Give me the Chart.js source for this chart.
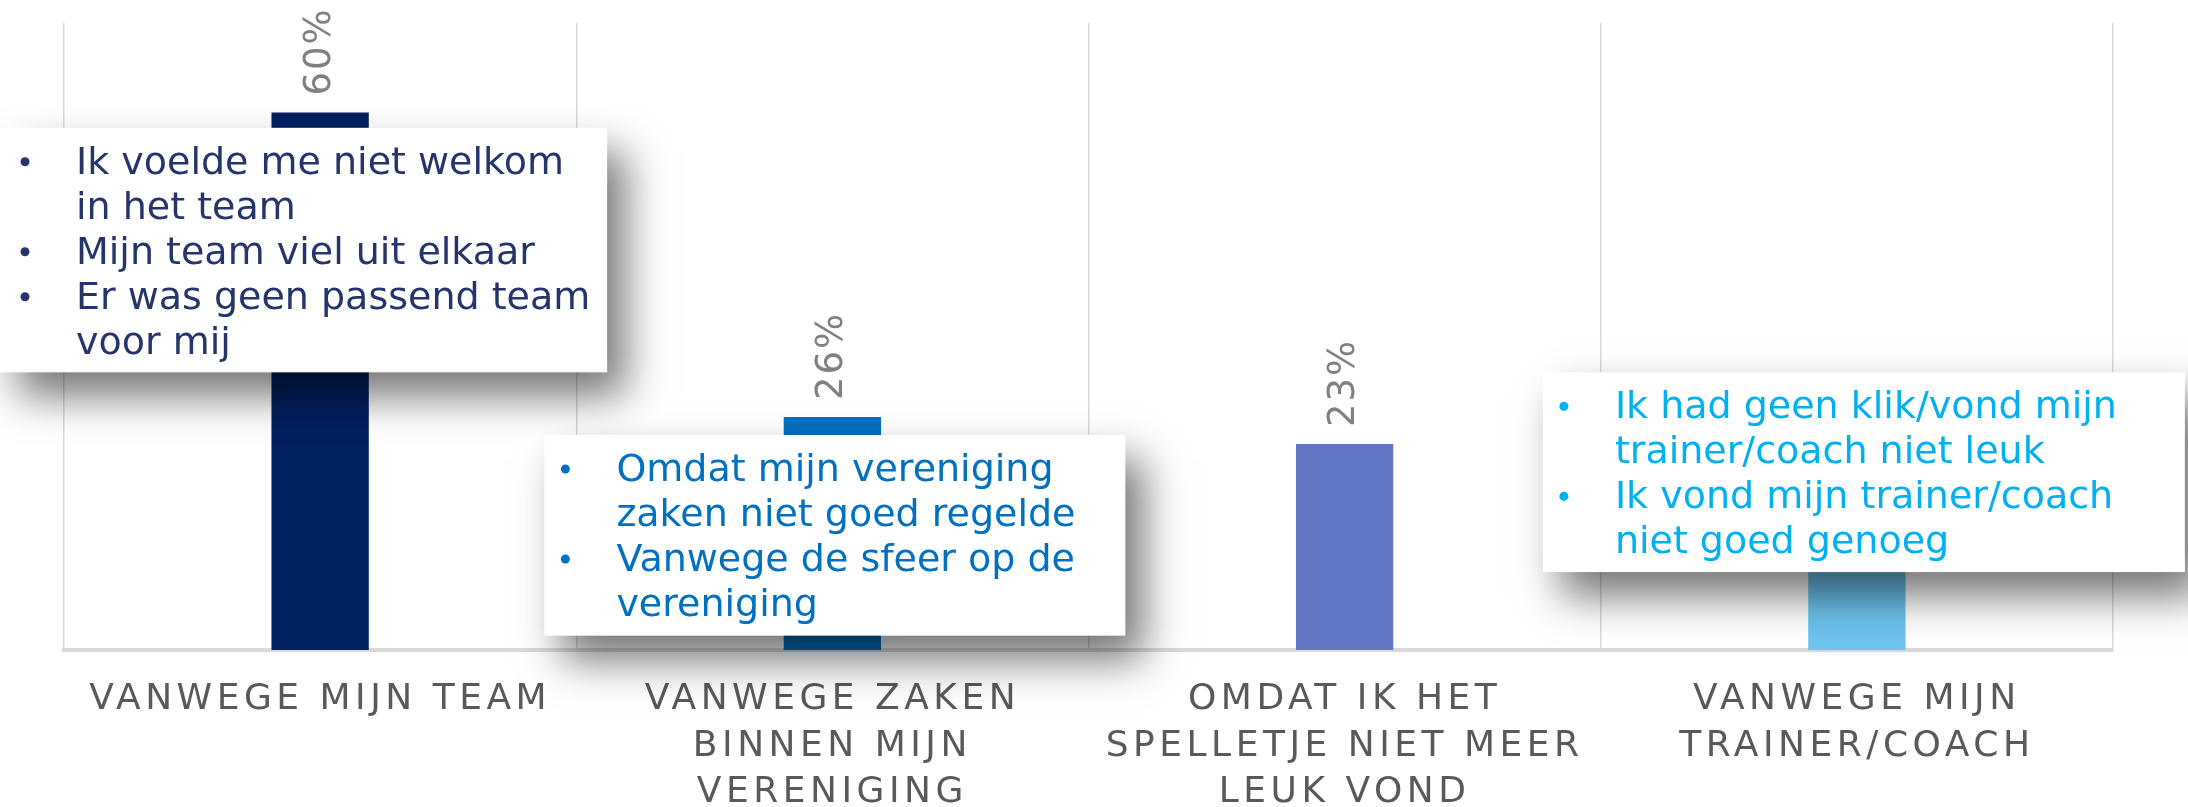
<!DOCTYPE html>
<html>
<head>
<meta charset="utf-8">
<script src="https://cdn.jsdelivr.net/npm/chart.js@4"></script>
<style>
  html, body { margin: 0; padding: 0; background: #fff; }
</style>
</head>
<body>
<canvas id="barChart" width="2188" height="807"></canvas>
<script>
// chart data
const categories = [
    ['VANWEGE MIJN TEAM'],
    ['VANWEGE ZAKEN', 'BINNEN MIJN', 'VERENIGING'],
    ['OMDAT IK HET', 'SPELLETJE NIET MEER', 'LEUK VOND'],
    ['VANWEGE MIJN', 'TRAINER/COACH'],
]
const percentages = [60, 26, 23, 18]
const barColors = ['#002060', '#0070c0', '#6276c4', '#6dc4ee']

// callout texts (one entry per bullet, split in lines)
const teamReasons = [
    ['Ik voelde me niet welkom', 'in het team'],
    ['Mijn team viel uit elkaar'],
    ['Er was geen passend team', 'voor mij'],
]
const clubReasons = [
    ['Omdat mijn vereniging', 'zaken niet goed regelde'],
    ['Vanwege de sfeer op de', 'vereniging'],
]
const coachReasons = [
    ['Ik had geen klik/vond mijn', 'trainer/coach niet leuk'],
    ['Ik vond mijn trainer/coach', 'niet goed genoeg'],
]

const FONT = '"DejaVu Sans", Verdana, sans-serif'

// letter spacing for the category labels only
const spacing = {
    id: 'spacing',
    beforeDraw(chart) {
        chart.ctx.letterSpacing = '4.5px'
    },
    beforeDatasetsDraw(chart) {
        chart.ctx.letterSpacing = '0px'
    },
}

// rotated percentage above each bar
const valueLabels = {
    id: 'valueLabels',
    afterDatasetsDraw(chart) {
        const ctx = chart.ctx
        const meta = chart.getDatasetMeta(0)
        meta.data.forEach((bar, i) => {
            ctx.save()
            ctx.letterSpacing = '2px'
            ctx.translate(bar.x, bar.y - 17)
            ctx.rotate(-Math.PI / 2)
            ctx.font = '37px ' + FONT
            ctx.fillStyle = '#808080'
            ctx.textAlign = 'left'
            ctx.textBaseline = 'middle'
            ctx.fillText(percentages[i] + '%', 0, 0)
            ctx.restore()
        })
    },
}

// white boxes with a drop shadow that explain the reasons
const callouts = {
    id: 'callouts',
    afterDraw(chart) {
        const ctx = chart.ctx
        const x = chart.scales.x
        const y = chart.scales.y
        const boxes = [
            { items: teamReasons, color: '#26346c',
              left: 0, right: x.getPixelForValue(0) + 287, top: y.getPixelForValue(58.3), bottom: y.getPixelForValue(31) },
            { items: clubReasons, color: '#0070c0',
              left: x.getPixelForValue(1) - 288, right: x.getPixelForValue(1) + 293, top: y.getPixelForValue(24), bottom: y.getPixelForValue(1.6) },
            { items: coachReasons, color: '#00b0f0',
              left: x.getPixelForValue(3) - 314, right: x.getPixelForValue(3) + 328, top: y.getPixelForValue(31), bottom: y.getPixelForValue(8.7) },
        ]
        boxes.forEach(b => {
            ctx.save()
            ctx.shadowColor = 'rgba(0, 0, 0, 0.55)'
            ctx.shadowBlur = 40
            ctx.shadowOffsetX = 18
            ctx.shadowOffsetY = 24
            ctx.fillStyle = '#ffffff'
            ctx.fillRect(b.left, b.top, b.right - b.left, b.bottom - b.top)
            ctx.restore()

            ctx.save()
            ctx.fillStyle = b.color
            ctx.textBaseline = 'alphabetic'
            ctx.textAlign = 'left'
            let line = 0
            const bulletX = b.left + (b.left === 0 ? 21 : 17)
            const textX = b.left + (b.left === 0 ? 76 : 72)
            b.items.forEach(item => {
                item.forEach((text, k) => {
                    const by = b.top + 46 + line * 45
                    if (k === 0) {
                        ctx.beginPath()
                        ctx.arc(bulletX + 4, by - 12, 4.5, 0, Math.PI * 2)
                        ctx.fill()
                    }
                    ctx.font = '38px ' + FONT
                    ctx.fillText(text, textX, by)
                    line++
                })
            })
            ctx.restore()
        })
    },
}

const chartCtx = document.getElementById('barChart').getContext('2d')

const barChart = new Chart(chartCtx, {
    type: 'bar',
    data: {
        labels: categories,
        datasets: [{
            label: '',
            data: percentages,
            backgroundColor: barColors,
            categoryPercentage: 1,
            barPercentage: 0.19,
        }]
    },
    options: {
        responsive: false,
        animation: false,
        layout: {
            padding: { left: 64, right: 75, top: 23, bottom: 0 },
        },
        plugins: {
            legend: { display: false },
            tooltip: { enabled: false },
        },
        scales: {
            y: {
                display: false,
                min: 0,
                max: 70,
            },
            x: {
                afterFit(scale) {
                    scale.height = 157
                },
                grid: {
                    color: '#d9d9d9',
                    lineWidth: 1.5,
                    drawTicks: false,
                },
                border: {
                    color: '#d9d9d9',
                    width: 4,
                },
                ticks: {
                    color: '#595959',
                    padding: 26,
                    maxRotation: 0,
                    autoSkip: false,
                    font: { family: FONT, size: 36, lineHeight: 1.3 },
                },
            },
        }
    },
    plugins: [spacing, valueLabels, callouts],
})
</script>
</body>
</html>
